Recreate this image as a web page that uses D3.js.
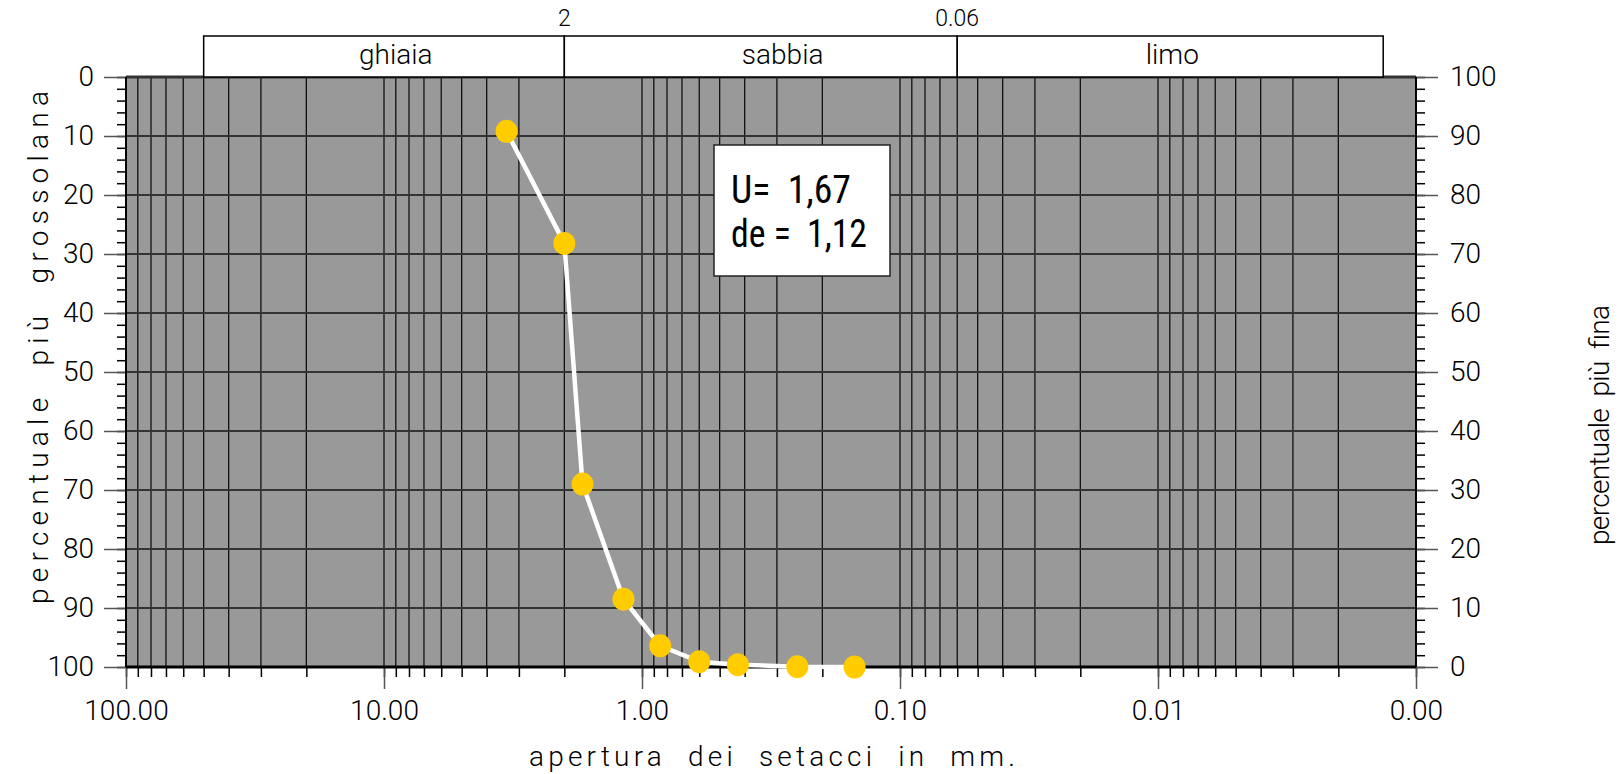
<!DOCTYPE html>
<html>
<head>
<meta charset="utf-8">
<script src="https://cdn.jsdelivr.net/npm/d3@7"></script>
<style>
  body { margin: 0; background: #fff; overflow: hidden; }
  svg { display: block; }
  svg text { font-family: Roboto, "DejaVu Sans", sans-serif; font-weight: 300; fill: #000; white-space: pre; }
</style>
</head>
<body>
<div id="chart"></div>
<script>
// sieve openings (mm) and percentage retained (percentuale piu' grossolana)
const sieveMm = [3.35, 2.0, 1.7, 1.18, 0.85, 0.6, 0.425, 0.25, 0.15];
const retainedPct = [9.2, 28.2, 69.0, 88.5, 96.4, 99.1, 99.6, 99.95, 100];

// x axis decades and y ticks
const decades = [100, 10, 1, 0.1, 0.01, 0.001];
const pctMajor = d3.range(0, 101, 10);
const pctMinor = d3.range(0, 101, 2);

// grain size bands across the top
const bandEdges = [50, 2, 0.06, 0.00134];
const bandNames = ["ghiaia", "sabbia", "limo"];
const bandLabelAt = [9, 0.285, 0.0088];
const edgeLabels = ["2", "0.06"];

// summary values in the box
const summary = ["U=  1,67", "de =  1,12"];

const W = 1619, H = 774;
const margin = { top: 77, right: 203, bottom: 107, left: 126 };
const plotW = 1290;   // W - margin.left - margin.right
const plotH = 590;    // H - margin.top - margin.bottom

const svg = d3.select("#chart").append("svg")
  .attr("width", W)
  .attr("height", H);

const g = svg.append("g")
  .attr("transform", `translate(${margin.left}, ${margin.top})`);

const x = d3.scaleLog().domain([100, 0.001]).range([0, plotW]);
const yLeft = d3.scaleLinear().domain([0, 100]).range([0, plotH]);
const yRight = d3.scaleLinear().domain([100, 0]).range([0, plotH]);

// plot background
g.append("rect")
  .attr("width", plotW)
  .attr("height", plotH)
  .attr("fill", "#999999");

// vertical log grid
g.append("g").selectAll("line")
  .data(x.ticks())
  .enter().append("line")
    .attr("x1", d => x(d)).attr("x2", d => x(d))
    .attr("y1", 0).attr("y2", plotH)
    .attr("stroke", "#111")
    .attr("stroke-width", 1.3);

// horizontal grid
g.append("g").selectAll("line")
  .data(pctMajor)
  .enter().append("line")
    .attr("x1", 0).attr("x2", plotW)
    .attr("y1", d => yLeft(d)).attr("y2", d => yLeft(d))
    .attr("stroke", "#333")
    .attr("stroke-width", 2);

// axes
function styleAxis(sel, color) {
  sel.attr("font-family", null).attr("font-size", null);
  sel.select(".domain").remove();
  sel.selectAll(".tick line").attr("stroke", color).attr("stroke-width", 1.5);
  sel.selectAll(".tick text")
    .attr("font-size", 28)
    .attr("fill", "#000");
}

// bottom
g.append("g")
  .attr("transform", `translate(0, ${plotH})`)
  .call(d3.axisBottom(x).tickValues(x.ticks()).tickSize(10).tickFormat(""))
  .call(s => styleAxis(s, "#000"));
g.append("g")
  .attr("transform", `translate(0, ${plotH})`)
  .call(d3.axisBottom(x).tickValues(decades).tickSize(22).tickPadding(11).tickFormat(d3.format(".2f")))
  .call(s => styleAxis(s, "#555"));

// left
g.append("g")
  .call(d3.axisLeft(yLeft).tickValues(pctMinor).tickSize(9).tickFormat(""))
  .call(s => styleAxis(s, "#000"));
g.append("g")
  .call(d3.axisLeft(yLeft).tickValues(pctMajor).tickSize(22).tickPadding(10))
  .call(s => styleAxis(s, "#555"));

// right
g.append("g")
  .attr("transform", `translate(${plotW}, 0)`)
  .call(d3.axisRight(yRight).tickValues(pctMinor).tickSize(9).tickFormat(""))
  .call(s => styleAxis(s, "#000"));
g.append("g")
  .attr("transform", `translate(${plotW}, 0)`)
  .call(d3.axisRight(yRight).tickValues(pctMajor).tickSize(22).tickPadding(12))
  .call(s => styleAxis(s, "#555"));

// plot frame
g.append("line").attr("x1", 0).attr("x2", plotW).attr("y1", 0).attr("y2", 0)
  .attr("stroke", "#333").attr("stroke-width", 3);
g.append("line").attr("x1", 0).attr("x2", plotW).attr("y1", plotH).attr("y2", plotH)
  .attr("stroke", "#000").attr("stroke-width", 3);
g.append("line").attr("x1", 0).attr("x2", 0).attr("y1", 0).attr("y2", plotH)
  .attr("stroke", "#000").attr("stroke-width", 2);
g.append("line").attr("x1", plotW).attr("x2", plotW).attr("y1", 0).attr("y2", plotH)
  .attr("stroke", "#000").attr("stroke-width", 2);

// top band of soil classes
const band = g.append("g");
const bandTop = -41;
band.selectAll("rect")
  .data(bandNames)
  .enter().append("rect")
    .attr("x", (d, i) => x(bandEdges[i]))
    .attr("y", bandTop)
    .attr("width", (d, i) => x(bandEdges[i + 1]) - x(bandEdges[i]))
    .attr("height", -bandTop)
    .attr("fill", "#fff")
    .attr("stroke", "#000")
    .attr("stroke-width", 1.5);
band.selectAll("text.name")
  .data(bandNames)
  .enter().append("text")
    .attr("class", "name")
    .attr("x", (d, i) => x(bandLabelAt[i]))
    .attr("y", -13)
    .attr("text-anchor", "middle")
    .attr("font-size", 28)
    .text(d => d);
band.selectAll("text.edge")
  .data(edgeLabels)
  .enter().append("text")
    .attr("class", "edge")
    .attr("x", (d, i) => x(bandEdges[i + 1]))
    .attr("y", -51)
    .attr("text-anchor", "middle")
    .attr("font-size", 23)
    .text(d => d);

// grading curve
const pts = sieveMm.map((d, i) => [x(d), yLeft(retainedPct[i])]);
g.append("path")
  .datum(pts)
  .attr("fill", "none")
  .attr("stroke", "#fff")
  .attr("stroke-width", 4.5)
  .attr("stroke-linejoin", "round")
  .attr("d", d3.line());

g.selectAll("ellipse.pt")
  .data(pts)
  .enter().append("ellipse")
    .attr("class", "pt")
    .attr("cx", d => d[0])
    .attr("cy", d => d[1])
    .attr("rx", 11)
    .attr("ry", 11.5)
    .attr("fill", "#FFCC00");

// summary box
const box = g.append("g").attr("transform", "translate(588, 68)");
box.append("rect")
  .attr("width", 176)
  .attr("height", 131)
  .attr("fill", "#fff")
  .attr("stroke", "#222")
  .attr("stroke-width", 1.5);
box.selectAll("text")
  .data(summary)
  .enter().append("text")
    .attr("x", 17)
    .attr("y", (d, i) => 58 + i * 44)
    .style("font-family", "'Roboto Condensed', 'DejaVu Sans Condensed', sans-serif")
    .style("font-weight", 400)
    .attr("font-size", 38)
    .attr("textLength", (d, i) => i === 0 ? 120 : 136)
    .attr("lengthAdjust", "spacingAndGlyphs")
    .text(d => d);

// axis titles
svg.append("text")
  .attr("x", 529)
  .attr("y", 766)
  .attr("font-size", 28)
  .attr("textLength", 486)
  .attr("lengthAdjust", "spacing")
  .text("apertura  dei  setacci  in  mm.");

svg.append("text")
  .attr("transform", "translate(48, 604) rotate(-90)")
  .attr("font-size", 28)
  .attr("textLength", 513)
  .attr("lengthAdjust", "spacing")
  .text("percentuale  più  grossolana");

svg.append("text")
  .attr("transform", "translate(1609, 545) rotate(-90)")
  .attr("font-size", 28)
  .attr("textLength", 240)
  .attr("lengthAdjust", "spacing")
  .text("percentuale  più  fina");
</script>
</body>
</html>
